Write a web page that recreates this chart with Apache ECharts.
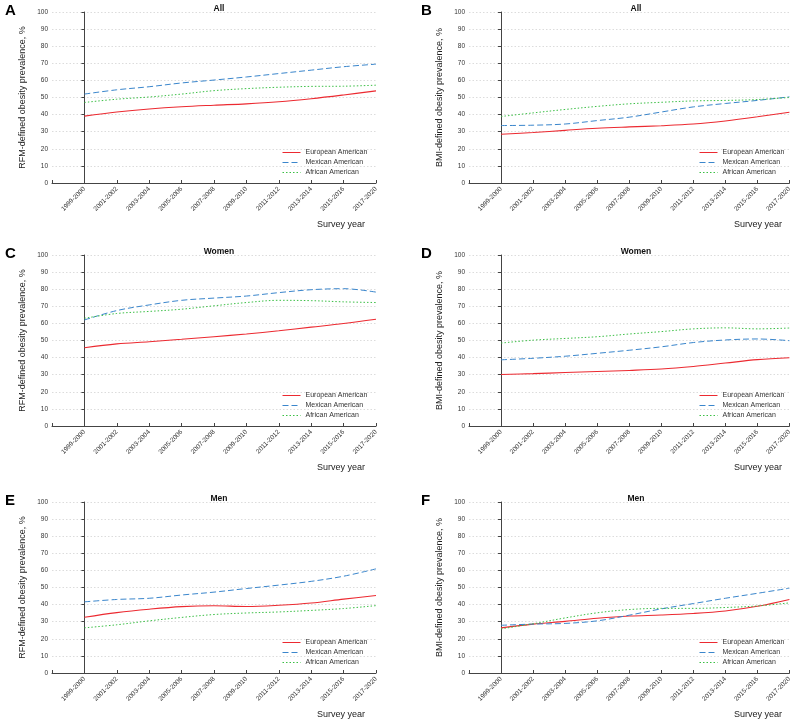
<!DOCTYPE html>
<html>
<head>
<meta charset="utf-8">
<script src="https://cdn.jsdelivr.net/npm/echarts@6/dist/echarts.min.js"></script>
<style>
html,body{margin:0;padding:0;background:#fff;}
#chart{width:794px;height:719px;}
</style>
</head>
<body>
<div id="chart"></div>
<script>
const categories = ['1999-2000','2001-2002','2003-2004','2005-2006','2007-2008','2009-2010','2011-2012','2013-2014','2015-2016','2017-2020'];
const seriesNames = ['European American','Mexican American','African American'];

// Panel A: RFM, All
const rfmAllEuropean = [39.1, 41.5, 43.3, 44.6, 45.5, 46.3, 47.5, 49.3, 51.5, 53.9];
const rfmAllMexican  = [52.0, 54.5, 56.3, 58.5, 60.2, 62.0, 64.0, 66.0, 68.0, 69.5];
const rfmAllAfrican  = [47.1, 49.0, 50.3, 52.0, 54.0, 55.2, 56.0, 56.5, 56.6, 57.2];
// Panel B: BMI, All
const bmiAllEuropean = [28.5, 29.5, 30.8, 32.0, 32.8, 33.5, 34.5, 36.3, 38.7, 41.4];
const bmiAllMexican  = [33.6, 33.8, 34.5, 36.5, 38.5, 41.5, 44.5, 46.5, 48.3, 50.4];
const bmiAllAfrican  = [38.9, 41.0, 43.0, 44.8, 46.3, 47.2, 48.0, 48.3, 48.8, 50.0];
// Panel C: RFM, Women
const rfmWomenEuropean = [45.8, 48.0, 49.3, 50.7, 52.2, 53.8, 55.7, 57.8, 59.9, 62.4];
const rfmWomenMexican  = [62.0, 67.5, 70.8, 73.5, 74.8, 76.0, 78.0, 79.7, 80.3, 78.3];
const rfmWomenAfrican  = [63.0, 65.8, 67.0, 68.3, 70.3, 72.2, 73.5, 73.3, 72.6, 72.2];
// Panel D: BMI, Women
const bmiWomenEuropean = [30.1, 30.6, 31.3, 31.9, 32.5, 33.3, 34.8, 36.8, 38.8, 39.9];
const bmiWomenMexican  = [38.7, 39.6, 40.8, 42.5, 44.3, 46.3, 48.8, 50.3, 50.9, 49.9];
const bmiWomenAfrican  = [48.5, 50.2, 51.2, 52.2, 53.8, 55.2, 56.8, 57.4, 56.8, 57.3];
// Panel E: RFM, Men
const rfmMenEuropean = [32.6, 35.3, 37.3, 38.8, 39.3, 38.9, 39.6, 40.9, 43.2, 45.3];
const rfmMenMexican  = [41.6, 43.0, 43.7, 45.6, 47.3, 49.4, 51.4, 53.6, 56.6, 60.9];
const rfmMenAfrican  = [26.4, 28.2, 30.5, 32.5, 34.2, 35.1, 35.7, 36.6, 37.7, 39.4];
// Panel F: BMI, Men
const bmiMenEuropean = [26.4, 28.6, 30.2, 32.0, 33.3, 33.9, 34.8, 36.3, 39.0, 43.0];
const bmiMenMexican  = [27.9, 28.6, 29.0, 30.5, 33.8, 37.5, 40.6, 43.7, 46.6, 49.6];
const bmiMenAfrican  = [25.8, 28.8, 32.2, 35.2, 37.1, 37.8, 37.8, 38.3, 39.2, 41.0];

const yTicks = [0,10,20,30,40,50,60,70,80,90,100];

const panels = [
  {letter:'A', title:'All',   yName:'RFM-defined obesity prevalence, %', data:[rfmAllEuropean, rfmAllMexican, rfmAllAfrican]},
  {letter:'B', title:'All',   yName:'BMI-defined obesity prevalence, %', data:[bmiAllEuropean, bmiAllMexican, bmiAllAfrican]},
  {letter:'C', title:'Women', yName:'RFM-defined obesity prevalence, %', data:[rfmWomenEuropean, rfmWomenMexican, rfmWomenAfrican]},
  {letter:'D', title:'Women', yName:'BMI-defined obesity prevalence, %', data:[bmiWomenEuropean, bmiWomenMexican, bmiWomenAfrican]},
  {letter:'E', title:'Men',   yName:'RFM-defined obesity prevalence, %', data:[rfmMenEuropean, rfmMenMexican, rfmMenAfrican]},
  {letter:'F', title:'Men',   yName:'BMI-defined obesity prevalence, %', data:[bmiMenEuropean, bmiMenMexican, bmiMenAfrican]}
];

const colors = ['#ec2a31', '#3a86cc', '#3bbf45'];
const lineTypes = ['solid', [6, 3], [1.5, 2]];
const FONT = 'Liberation Sans, Arial, sans-serif';

const colLeft = [52, 469];
const rowTop = [12, 255, 502];
const gridW = 324, gridH = 171;

const grids = [], xAxes = [], yAxes = [], series = [], titles = [], legends = [];

panels.forEach((p, k) => {
  const col = k % 2, row = Math.floor(k / 2);
  const left = colLeft[col], top = rowTop[row];
  grids.push({left: left, top: top, width: gridW, height: gridH, containLabel: false});
  xAxes.push({
    type: 'value', gridIndex: k, min: -1, max: categories.length - 1, interval: 1,
    axisLine: {show: true, onZero: false, lineStyle: {color: '#444', width: 1}},
    axisTick: {show: true, inside: true, length: 3, lineStyle: {color: '#444'}},
    splitLine: {show: false},
    axisLabel: {
      rotate: 45, fontSize: 6.5, color: '#333', fontFamily: FONT, margin: 5,
      formatter: v => (v >= 0 && v < categories.length) ? categories[v] : ''
    }
  });
  yAxes.push({
    type: 'value', gridIndex: k, min: yTicks[0], max: yTicks[yTicks.length - 1], interval: 10,
    name: p.yName, nameLocation: 'middle', nameGap: 25,
    nameTextStyle: {fontSize: 9, color: '#222', fontFamily: FONT},
    axisLine: {show: true, lineStyle: {color: '#444', width: 1}},
    axisTick: {show: true, length: 3, lineStyle: {color: '#444'}},
    splitLine: {show: true, lineStyle: {type: [1.5, 2], color: '#dcdcdc', width: 1}},
    axisLabel: {fontSize: 6.5, color: '#333', fontFamily: FONT, margin: 4}
  });
  p.data.forEach((vals, s) => {
    series.push({
      type: 'line', name: seriesNames[s], xAxisIndex: k, yAxisIndex: k,
      data: vals.map((v, i) => [i, v]),
      smooth: 0.35, symbol: 'none',
      lineStyle: {color: colors[s], width: s === 0 ? 1.1 : 1, type: lineTypes[s]},
      itemStyle: {color: colors[s]}
    });
  });
  titles.push({text: p.letter, left: col === 0 ? 0 : 416, top: top - 14,
    textStyle: {fontSize: 15, fontWeight: 'bold', color: '#000', fontFamily: FONT}});
  titles.push({text: p.title, left: left + gridW / 2, textAlign: 'center', top: top - 13,
    textStyle: {fontSize: 8.5, fontWeight: 'bold', color: '#111', fontFamily: FONT}});
  titles.push({text: 'Survey year', left: left + 260, top: top + 203,
    textStyle: {fontSize: 9, fontWeight: 'normal', color: '#222', fontFamily: FONT}});
  legends.push({
    data: seriesNames.map(n => ({name: n})),
    orient: 'vertical', left: left + 225, top: top + 132,
    itemWidth: 18, itemHeight: 7, itemGap: 3,
    itemStyle: {opacity: 0, borderWidth: 0},
    lineStyle: {width: 1},
    textStyle: {fontSize: 7, color: '#333', fontFamily: FONT},
    selectedMode: false
  });
});

const chart = echarts.init(document.getElementById('chart'), null, {renderer: 'canvas'});
chart.setOption({
  animation: false,
  backgroundColor: '#fff',
  title: titles,
  legend: legends,
  grid: grids,
  xAxis: xAxes,
  yAxis: yAxes,
  series: series
});
</script>
</body>
</html>
